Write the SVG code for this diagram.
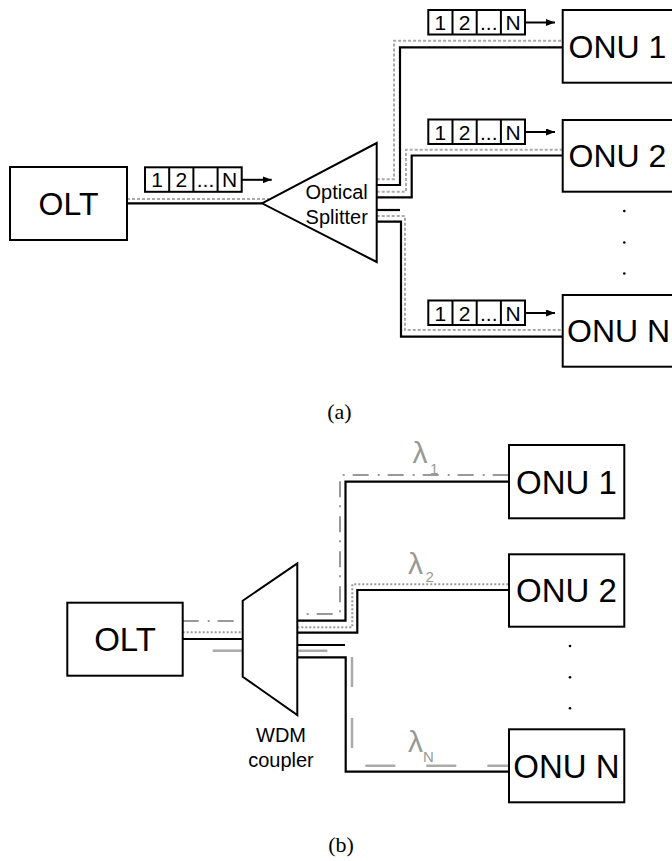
<svg xmlns="http://www.w3.org/2000/svg" width="672" height="861" viewBox="0 0 672 861">
<defs>
<style>
.box{fill:#fff;stroke:#000;stroke-width:2}
.fib{fill:none;stroke:#000;stroke-width:2.2}
.dotA{fill:none;stroke:#aaa;stroke-width:2;stroke-dasharray:3 2}
.dotB{fill:none;stroke:#999;stroke-width:2;stroke-dasharray:2 2}
.dd{fill:none;stroke:#999;stroke-width:2;stroke-dasharray:16 9 2 8}
.ldash{fill:none;stroke:#aaa;stroke-width:2.5;stroke-dasharray:30 31}
.gl{fill:none;stroke:#aaa;stroke-width:2.5}
.big{font-family:"Liberation Sans",Arial,sans-serif;font-size:32px;fill:#000}
.bigb{font-family:"Liberation Sans",Arial,sans-serif;font-size:33px;fill:#000}
.mid{font-family:"Liberation Sans",Arial,sans-serif;font-size:20px;fill:#000}
.cell{font-family:"Liberation Sans",Arial,sans-serif;font-size:21px;fill:#000;text-anchor:middle}
.lam{font-family:"Liberation Sans",Arial,sans-serif;font-size:30px;fill:#999}
.sub{font-family:"Liberation Sans",Arial,sans-serif;font-size:15px;fill:#999}
.cap{font-family:"Liberation Serif","Times New Roman",serif;font-size:22px;fill:#000;text-anchor:middle}
.arr{stroke:#000;stroke-width:2;fill:none}
.pk{fill:#fff;stroke:#000;stroke-width:2}
</style>
<marker id="ah" markerWidth="9" markerHeight="7" refX="9" refY="3.5" orient="auto" markerUnits="userSpaceOnUse">
<path d="M0,0 L9,3.5 L0,7 z" fill="#000"/>
</marker>
<g id="packet">
<rect class="pk" x="0" y="0" width="96.7" height="24.5"/>
<line class="arr" x1="24.2" y1="0" x2="24.2" y2="24.5"/>
<line class="arr" x1="48.4" y1="0" x2="48.4" y2="24.5"/>
<line class="arr" x1="72.6" y1="0" x2="72.6" y2="24.5"/>
<text class="cell" x="12.1" y="20">1</text>
<text class="cell" x="36.3" y="20">2</text>
<text class="cell" x="60.5" y="20">...</text>
<text class="cell" x="84.7" y="20">N</text>
<line class="arr" x1="96.7" y1="12.5" x2="126.7" y2="12.5" marker-end="url(#ah)"/>
</g>
</defs>
<rect width="672" height="861" fill="#fff"/>

<!-- (a) connectors -->
<g id="connectors-a">
<line class="dotA" x1="127" y1="199" x2="269" y2="199"/>
<line class="fib" x1="127" y1="203.3" x2="262" y2="203.3"/>
<polyline class="dotA" points="376.7,179.3 394,179.3 394,40.7 562.7,40.7"/>
<polyline class="fib" points="376.7,185 400,185 400,47.3 562.7,47.3"/>
<polyline class="dotA" points="376.7,191.7 406,191.7 406,149.7 562.7,149.7"/>
<polyline class="fib" points="376.7,197.3 411.7,197.3 411.7,155.5 562.7,155.5"/>
<line class="fib" x1="376.7" y1="210" x2="400" y2="210"/>
<polyline class="dotA" points="376.7,216 405,216 405,330 562.7,330"/>
<polyline class="fib" points="376.7,221.7 401,221.7 401,336.7 562.7,336.7"/>
</g>

<g id="packets-a">
<use href="#packet" x="145" y="167.3"/>
<use href="#packet" x="428.3" y="10"/>
<use href="#packet" x="428.3" y="119.5"/>
<use href="#packet" x="428.3" y="300.5"/>
</g>

<g id="olt-a">
<rect class="box" x="10" y="167" width="117" height="73"/>
<text class="big" x="68.5" y="215" text-anchor="middle">OLT</text>
</g>
<g id="splitter">
<polygon class="box" points="262,203.3 376.7,143 376.7,262"/>
<text class="mid" x="336.7" y="199.3" text-anchor="middle">Optical</text>
<text class="mid" x="336.7" y="224" text-anchor="middle">Splitter</text>
</g>
<g id="onu1-a">
<rect class="box" x="562.7" y="10" width="120" height="72.7"/>
<text class="big" x="568.5" y="57.8">ONU 1</text>
</g>
<g id="onu2-a">
<rect class="box" x="562.7" y="120" width="120" height="71.7"/>
<text class="big" x="568.5" y="167.3">ONU 2</text>
</g>
<g id="onuN-a">
<rect class="box" x="562.7" y="295" width="120" height="71.7"/>
<text class="big" x="567" y="342.3">ONU N</text>
</g>
<g id="dots-a">
<circle cx="624.3" cy="211" r="1.3"/>
<circle cx="624.3" cy="242.5" r="1.3"/>
<circle cx="624.3" cy="273.5" r="1.3"/>
</g>
<text class="cap" x="339.5" y="419">(a)</text>

<!-- (b) connectors -->
<g id="connectors-b">
<line class="dd" x1="182.7" y1="621" x2="242.7" y2="621"/>
<line class="dotB" x1="182.7" y1="632.3" x2="242.7" y2="632.3"/>
<line class="fib" x1="182.7" y1="639" x2="242.7" y2="639"/>
<line class="gl" x1="212.7" y1="650.7" x2="242.7" y2="650.7"/>
<polyline class="dd" style="stroke-dashoffset:15.6" points="297.3,614 340,614 340,475 509,475"/>
<polyline class="fib" points="297.3,620.7 345.5,620.7 345.5,481.7 509,481.7"/>
<polyline class="dotB" points="297.3,627.3 352.3,627.3 352.3,584.3 509,584.3"/>
<polyline class="fib" points="297.3,632.7 357.3,632.7 357.3,590 509,590"/>
<line class="fib" x1="297.3" y1="645" x2="345" y2="645"/>
<polyline class="ldash" points="297.3,650.7 352,650.7 352,765.7 509,765.7"/>
<polyline class="fib" points="297.3,657.3 345.7,657.3 345.7,771.7 509,771.7"/>
</g>
<g id="lambdas">
<text class="lam" x="412.5" y="463">λ</text><text class="sub" x="430" y="473.5">1</text>
<text class="lam" x="408" y="573.5">λ</text><text class="sub" x="425.5" y="582">2</text>
<text class="lam" x="408" y="751.7">λ</text><text class="sub" x="423" y="762">N</text>
</g>
<g id="olt-b">
<rect class="box" x="67.3" y="602.7" width="115.4" height="73"/>
<text class="bigb" x="125" y="651" text-anchor="middle">OLT</text>
</g>
<g id="wdm">
<polygon class="box" points="242.7,600.7 297.3,563.3 297.3,715 242.7,676.7"/>
<text class="mid" x="281" y="742" text-anchor="middle">WDM</text>
<text class="mid" x="281" y="767" text-anchor="middle">coupler</text>
</g>
<g id="onu1-b">
<rect class="box" x="509" y="445" width="115.3" height="73.3"/>
<text class="bigb" x="566.5" y="493.5" text-anchor="middle">ONU 1</text>
</g>
<g id="onu2-b">
<rect class="box" x="509" y="554.3" width="115.3" height="72.4"/>
<text class="bigb" x="566.5" y="602.3" text-anchor="middle">ONU 2</text>
</g>
<g id="onuN-b">
<rect class="box" x="509" y="729.3" width="115.3" height="73"/>
<text class="bigb" x="566.5" y="777.6" text-anchor="middle">ONU N</text>
</g>
<g id="dots-b">
<circle cx="570" cy="646" r="1.3"/>
<circle cx="570" cy="677.3" r="1.3"/>
<circle cx="570" cy="708.3" r="1.3"/>
</g>
<text class="cap" x="341" y="852">(b)</text>
</svg>
